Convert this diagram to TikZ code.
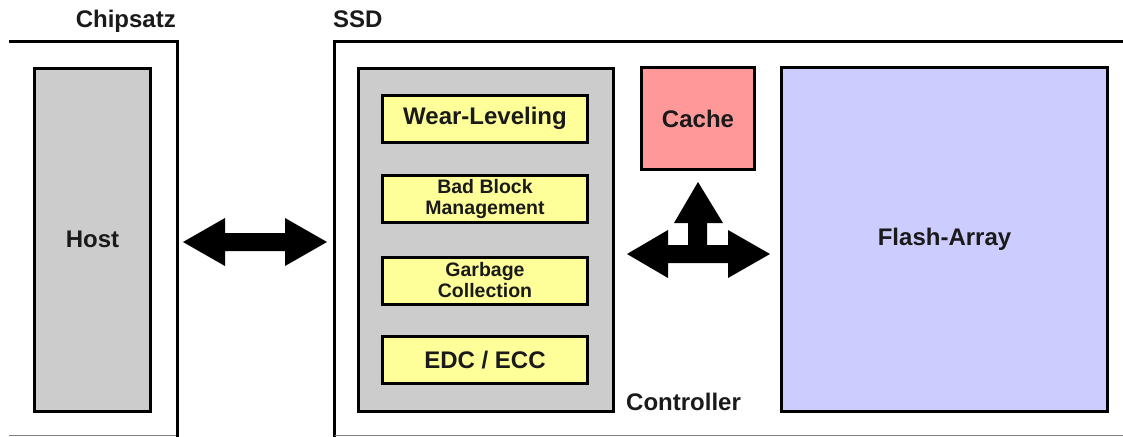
\documentclass[tikz,border=0pt]{standalone}
\usepackage{fontspec}
\setmainfont{Liberation Sans}
\definecolor{boxgray}{HTML}{CCCCCC}
\definecolor{boxyellow}{HTML}{FFFF99}
\definecolor{boxpink}{HTML}{FF9999}
\definecolor{boxblue}{HTML}{CCCCFF}
\definecolor{txt}{HTML}{1A1A1A}
\begin{document}
\begin{tikzpicture}[x=1pt,y=-1pt,
  blk/.style={draw=black,line width=3pt,rectangle,inner sep=0pt,outer sep=0pt,anchor=north west,
    text=txt,font=\bfseries\fontsize{24}{26}\selectfont,align=center},
  sub/.style={blk,fill=boxyellow,minimum width=205pt},
  small/.style={font=\bfseries\fontsize{19.5}{21}\selectfont},
  lbl/.style={text=txt,font=\bfseries\fontsize{24}{26}\selectfont,inner sep=0pt},
  frame/.style={line width=3pt},
  edge/.style={draw=gray,line width=1.2pt},
  barrow/.style={fill=black}]
\useasboundingbox (0,0) rectangle (1123,436);
% frames
\draw[frame] (9,42) -- (177,42) -- (177,437);
\draw[edge] (9,435.5) -- (176,435.5);
\draw[frame] (334,437) -- (334,42) -- (1124,42);
\draw[edge] (335,435.5) -- (1123,435.5);
\node[lbl,anchor=base east] (chip) at (176,28) {Chipsatz};
\node[lbl,anchor=base west] (ssd) at (333,28) {SSD};
% host
\node[blk,fill=boxgray,minimum width=116pt,minimum height=343pt] (host) at (34.5,68) {Host};
% controller
\node[blk,fill=boxgray,minimum width=255pt,minimum height=343pt] (ctrl) at (358,68) {};
\node[lbl,anchor=base west] (ctrllbl) at (626,410) {Controller};
\node[sub,minimum height=47pt] (wear) at (382.5,95) {Wear-Leveling};
\node[sub,small,minimum height=47pt] (bad) at (382.5,175) {Bad Block\\Management};
\node[sub,small,minimum height=47pt] (gc) at (382.5,257) {Garbage\\Collection};
\node[sub,minimum height=47pt] (edc) at (382.5,336.5) {EDC / ECC};
% cache
\node[blk,fill=boxpink,minimum width=113pt,minimum height=102pt] (cache) at (641.5,67.5) {Cache};
% flash
\node[blk,fill=boxblue,minimum width=326pt,minimum height=344pt] (flash) at (781.5,67.5) {Flash-Array};
% arrows
\fill[barrow] (183,242) -- (225,218) -- (225,233) -- (285,233) -- (285,218) -- (327,242)
  -- (285,266) -- (285,251) -- (225,251) -- (225,266) -- cycle;
\fill[barrow] (627,254) -- (668,230) -- (668,245) -- (688,245) -- (688,223) -- (674,223)
  -- (698,182) -- (723,223) -- (707,223) -- (707,245) -- (728,245) -- (728,230)
  -- (770,254) -- (728,278) -- (728,263) -- (668,263) -- (668,278) -- cycle;
\end{tikzpicture}
\end{document}
